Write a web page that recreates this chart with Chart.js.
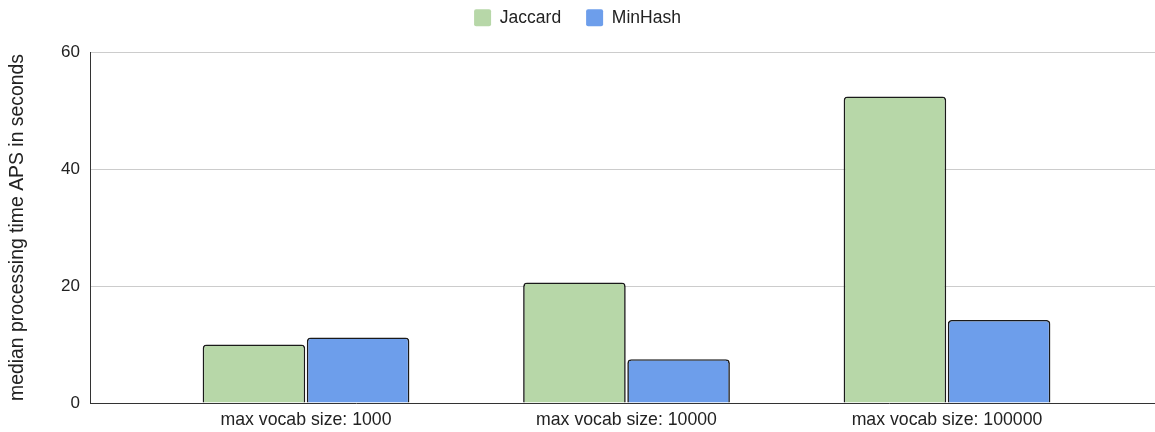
<!DOCTYPE html>
<html>
<head>
<meta charset="utf-8">
<script src="https://cdn.jsdelivr.net/npm/chart.js@4/dist/chart.umd.min.js"></script>
<style>
  html, body { margin: 0; padding: 0; background: #ffffff; }
  #wrap { width: 1155px; height: 432px; }
</style>
</head>
<body>
<div id="wrap"><canvas id="chart" width="1155" height="432"></canvas></div>
<script>
// Median processing time per vocabulary size
const categories = ['max vocab size: 1000', 'max vocab size: 10000', 'max vocab size: 100000'];
const jaccard = [10.0, 20.6, 52.4];
const minhash = [11.2, 7.5, 14.2];
const seriesNames = ['Jaccard', 'MinHash'];
const yTicks = [0, 20, 40, 60];
const yTitle = 'median processing time APS in seconds';

const FONT = "'Liberation Sans', Arial, sans-serif";
const TEXT = '#222222';
const X_MIN = -0.674;
const X_MAX = 2.649;

const toPoints = vals => vals.map((v, i) => ({ x: i, y: v }));

// Pins the legend block height so the plot starts where intended
const legendHeight = {
  id: 'legendHeight',
  beforeInit(chart) {
    const lg = chart.legend;
    if (!lg) return;
    const fit = lg.fit;
    lg.fit = function () { fit.call(this); this.height = 68; };
  }
};

new Chart(document.getElementById('chart'), {
  type: 'bar',
  data: {
    datasets: [
      {
        label: seriesNames[0],
        data: toPoints(jaccard),
        backgroundColor: '#b7d7a8',
        borderColor: '#1a1a1a',
        borderWidth: 1.6,
        borderRadius: 4,
        borderSkipped: 'start'
      },
      {
        label: seriesNames[1],
        data: toPoints(minhash),
        backgroundColor: '#6d9eeb',
        borderColor: '#1a1a1a',
        borderWidth: 1.6,
        borderRadius: 4,
        borderSkipped: 'start'
      }
    ]
  },
  options: {
    responsive: false,
    animation: false,
    datasets: { bar: { categoryPercentage: 0.65, barPercentage: 0.985 } },
    layout: { padding: { top: -16, left: 0, right: 0, bottom: 0 } },
    plugins: {
      tooltip: { enabled: false },
      legend: {
        position: 'top',
        labels: {
          boxWidth: 17,
          boxHeight: 17,
          padding: 25,
          color: TEXT,
          useBorderRadius: true,
          borderRadius: 2,
          font: { family: FONT, size: 17.5 },
          generateLabels(chart) {
            const items = Chart.defaults.plugins.legend.labels.generateLabels(chart);
            items.forEach(it => { it.lineWidth = 0; it.strokeStyle = 'rgba(0,0,0,0)'; });
            return items;
          }
        }
      }
    },
    scales: {
      x: {
        type: 'linear',
        offset: false,
        bounds: 'data',
        min: X_MIN,
        max: X_MAX,
        afterDataLimits: s => { s.min = X_MIN; s.max = X_MAX; },
        afterBuildTicks: s => { s.ticks = categories.map((_, i) => ({ value: i })); },
        afterFit: s => { s.height = 29; },
        grid: { display: false, drawTicks: false },
        border: { display: true, color: '#333333', width: 1 },
        ticks: {
          padding: 6,
          color: TEXT,
          autoSkip: false,
          maxRotation: 0,
          font: { family: FONT, size: 17.7 },
          callback: v => categories[v] ?? ''
        }
      },
      y: {
        min: 0,
        max: 60,
        afterBuildTicks: s => { s.ticks = yTicks.map(v => ({ value: v })); },
        afterFit: s => { s.width = 90; },
        grid: {
          color: ctx => (ctx.tick && ctx.tick.value === 0 ? 'rgba(0,0,0,0)' : '#cccccc'),
          lineWidth: 1,
          drawTicks: false
        },
        border: { display: true, color: '#333333', width: 1 },
        ticks: {
          padding: 10,
          color: TEXT,
          font: { family: FONT, size: 17 }
        },
        title: {
          display: true,
          text: yTitle,
          color: TEXT,
          padding: { top: 6, bottom: 0 },
          font: { family: FONT, size: 19.4 }
        }
      }
    }
  },
  plugins: [legendHeight]
});
</script>
</body>
</html>
